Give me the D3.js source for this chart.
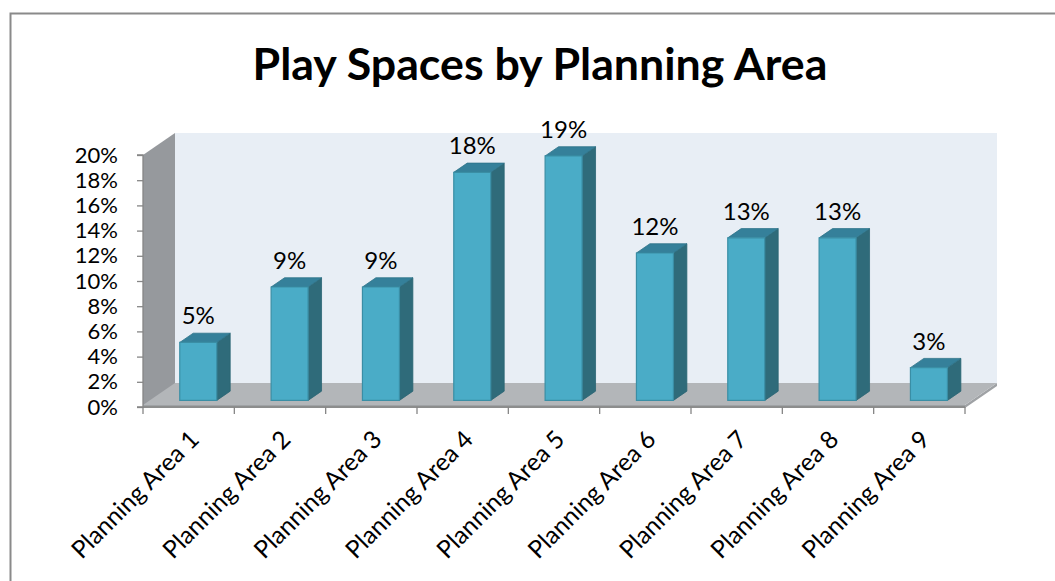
<!DOCTYPE html>
<html>
<head>
<meta charset="utf-8">
<script src="https://cdn.jsdelivr.net/npm/d3@7"></script>
<style>
  html, body { margin: 0; padding: 0; background: #fff; }
  svg { display: block; }
  text { font-family: Lato, "Open Sans", sans-serif; fill: #000; }
</style>
</head>
<body>
<svg id="chart" width="1055" height="581"></svg>
<script>
// Share of play spaces in each planning area
const categories = [
  "Planning Area 1", "Planning Area 2", "Planning Area 3",
  "Planning Area 4", "Planning Area 5", "Planning Area 6",
  "Planning Area 7", "Planning Area 8", "Planning Area 9"
];
const shares = [0.046, 0.09, 0.09, 0.181, 0.194, 0.117, 0.129, 0.129, 0.026];
const yTicks = [0, 0.02, 0.04, 0.06, 0.08, 0.10, 0.12, 0.14, 0.16, 0.18, 0.20];
const titleText = "Play Spaces by Planning Area";

const svg = d3.select("#chart");
const pct = d3.format(".0%");

// Plot box (front plane) and oblique depth offset of the 3-D walls
const plotL = 143, plotR = 965, plotB = 407, plotT = 155;
const DX = 32, DY = 22;
const F0 = 0.30, F1 = 0.72; // bar depth span as fraction of the floor depth

const x = d3.scaleBand().domain(categories).range([plotL, plotR]).padding(0);
const y = d3.scaleLinear().domain([0, 0.2]).range([plotB, plotT]);
const proj = (px, py, f) => [px + f * DX, py - f * DY];
const poly = pts => "M" + pts.map(p => p.join(",")).join("L") + "Z";

// Outer chart frame
svg.append("path")
  .attr("d", "M10.5,581V13.5H1055")
  .attr("fill", "none").attr("stroke", "#8a8a8a").attr("stroke-width", 2);

// Title
const title = svg.append("text")
  .attr("x", 540).attr("y", 80)
  .attr("text-anchor", "middle")
  .attr("font-weight", 700)
  .attr("font-size", 40)
  .text(titleText);
const tw = title.node().getComputedTextLength();
title.attr("font-size", 40 * 575 / tw);

// Walls and floor
const walls = svg.append("g");
const y0 = y(0), yTop = y(0.2);
walls.append("path") // back wall
  .attr("d", poly([proj(plotL, yTop, 1), proj(plotR, yTop, 1), proj(plotR, y0, 1), proj(plotL, y0, 1)]))
  .attr("fill", "#e8eef5");
walls.append("path") // side wall
  .attr("d", poly([[plotL, y0], proj(plotL, y0, 1), proj(plotL, yTop, 1), [plotL, yTop]]))
  .attr("fill", "#96999d");
walls.append("path") // floor thickness
  .attr("d", poly([[plotL, y0 - 2], [plotR, y0 - 2], proj(plotR, y0 - 2, 1), proj(plotR, y0 + 1, 1), [plotR, y0 + 1], [plotL, y0 + 1]]))
  .attr("fill", "#9fa2a5");
walls.append("path") // floor
  .attr("d", poly([[plotL, y0 - 2], [plotR, y0 - 2], proj(plotR, y0 - 2, 1), proj(plotL, y0 - 2, 1)]))
  .attr("fill", "#b3b6b9");

// Axes
const axisColor = "#868686";
const yAxis = svg.append("g")
  .attr("transform", `translate(${plotL},0)`)
  .call(d3.axisLeft(y).tickValues(yTicks).tickFormat(pct).tickSize(6).tickPadding(19));
yAxis.selectAll("path, line").attr("stroke", axisColor).attr("stroke-width", 1.3);
yAxis.select(".domain").attr("d", `M-6,${plotT}H0V${plotB}H-6`);
yAxis.selectAll("text")
  .attr("font-size", 22)
  .attr("font-family", "Lato, 'Open Sans', sans-serif")
  .attr("fill", "#000");

const xAxis = svg.append("g");
xAxis.append("line")
  .attr("x1", plotL).attr("x2", plotR).attr("y1", plotB).attr("y2", plotB)
  .attr("stroke", axisColor).attr("stroke-width", 1.3);
const boundaries = categories.map(c => x(c)).concat([x.range()[1]]);
xAxis.selectAll("line.tick").data(boundaries).join("line")
  .attr("class", "tick")
  .attr("x1", d => d).attr("x2", d => d)
  .attr("y1", plotB).attr("y2", plotB + 7)
  .attr("stroke", axisColor).attr("stroke-width", 1.3);
xAxis.selectAll("text").data(categories).join("text")
  .attr("transform", d => `translate(${x(d) + x.bandwidth() / 2 + 12},${plotB + 34}) rotate(-45)`)
  .attr("text-anchor", "end")
  .attr("font-size", 24.5)
  .text(d => d);

// 3-D columns
const bw = x.bandwidth() * 0.405;
const bars = svg.append("g").selectAll("g").data(categories.map((c, i) => ({ c, v: shares[i] }))).join("g");
bars.each(function (d) {
  const g = d3.select(this);
  const xl = x(d.c) + (x.bandwidth() - bw) / 2;
  const xr = xl + bw;
  const yb = y(0), yt = y(d.v);
  const fd = F1 - F0;
  const fl = proj(xl, yb, F0), fr = proj(xr, yb, F0);
  const tl = proj(xl, yt, F0), tr = proj(xr, yt, F0);
  const off = p => [p[0] + fd * DX, p[1] - fd * DY];
  // side face
  g.append("path").attr("d", poly([fr, off(fr), off(tr), tr]))
    .attr("fill", "#2f6b7a").attr("stroke", "#2b6473").attr("stroke-width", 0.8);
  // top face
  g.append("path").attr("d", poly([tl, tr, off(tr), off(tl)]))
    .attr("fill", "#35809a").attr("stroke", "#2f7389").attr("stroke-width", 0.8);
  // front face
  g.append("path").attr("d", poly([fl, fr, tr, tl]))
    .attr("fill", "#4aacc7").attr("stroke", "#3a8ea5").attr("stroke-width", 1.2);
  // value label
  g.append("text")
    .attr("x", (tl[0] + tr[0]) / 2)
    .attr("y", tl[1] - 18)
    .attr("text-anchor", "middle")
    .attr("font-size", 24)
    .text(pct(d.v));
});
</script>
</body>
</html>
